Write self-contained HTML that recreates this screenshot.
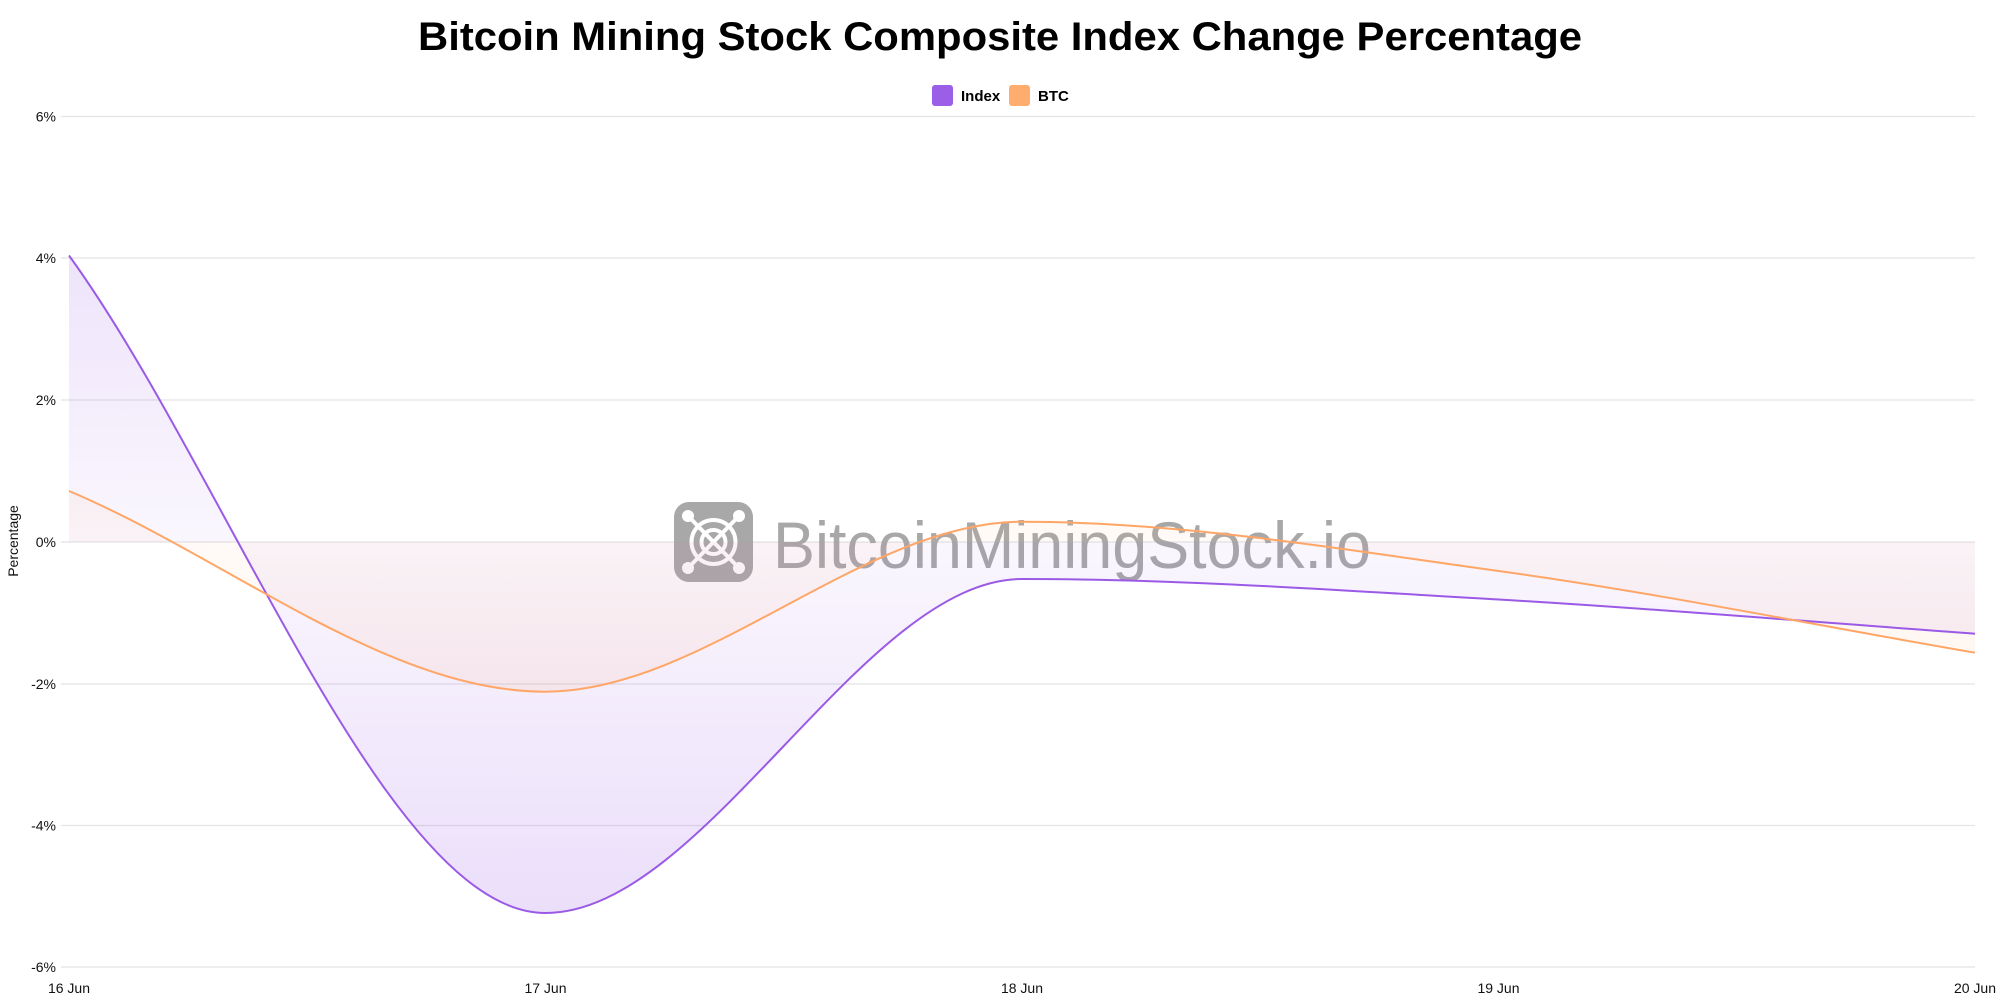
<!DOCTYPE html>
<html><head><meta charset="utf-8"><style>
html,body{margin:0;padding:0;background:#fff;}
svg{display:block;}
text{font-family:"Liberation Sans",Arial,sans-serif;}
</style></head><body>
<svg width="2000" height="1000" viewBox="0 0 2000 1000" xmlns="http://www.w3.org/2000/svg">
<defs>
<linearGradient id="gp" gradientUnits="userSpaceOnUse" x1="0" y1="117" x2="0" y2="967">
<stop offset="0" stop-color="#9a5ae6" stop-opacity="0.22"/>
<stop offset="0.5" stop-color="#9a5ae6" stop-opacity="0.05"/>
<stop offset="1" stop-color="#9a5ae6" stop-opacity="0.22"/>
</linearGradient>
<linearGradient id="go" gradientUnits="userSpaceOnUse" x1="0" y1="117" x2="0" y2="967">
<stop offset="0" stop-color="#ffa666" stop-opacity="0.22"/>
<stop offset="0.5" stop-color="#ffa666" stop-opacity="0.05"/>
<stop offset="1" stop-color="#ffa666" stop-opacity="0.22"/>
</linearGradient>
</defs>
<rect width="2000" height="1000" fill="#fff"/>
<text x="1000" y="50" text-anchor="middle" font-size="40" font-weight="bold" fill="#000" textLength="1164" lengthAdjust="spacingAndGlyphs">Bitcoin Mining Stock Composite Index Change Percentage</text>
<rect x="932" y="85" width="21" height="21" rx="3" fill="#9a5fe6"/>
<text x="961" y="101" font-size="15" font-weight="bold" fill="#000">Index</text>
<rect x="1009" y="85" width="21" height="21" rx="3" fill="#ffad6e"/>
<text x="1038" y="101" font-size="15" font-weight="bold" fill="#000">BTC</text>
<g stroke="#e4e4e4" stroke-width="1.2">
<line x1="61" y1="116.5" x2="1975" y2="116.5"/>
<line x1="61" y1="258" x2="1975" y2="258"/>
<line x1="61" y1="400" x2="1975" y2="400"/>
<line x1="61" y1="542" x2="1975" y2="542"/>
<line x1="61" y1="684" x2="1975" y2="684"/>
<line x1="61" y1="825.5" x2="1975" y2="825.5"/>
<line x1="61" y1="967" x2="1975" y2="967"/>
</g>
<g font-size="14" fill="#111" text-anchor="end">
<text x="56" y="121.5">6%</text>
<text x="56" y="263">4%</text>
<text x="56" y="405">2%</text>
<text x="56" y="547">0%</text>
<text x="56" y="689">-2%</text>
<text x="56" y="830.5">-4%</text>
<text x="56" y="972">-6%</text>
</g>
<g font-size="14" fill="#111" text-anchor="middle">
<text x="69" y="993">16 Jun</text>
<text x="545.5" y="993">17 Jun</text>
<text x="1022" y="993">18 Jun</text>
<text x="1498.5" y="993">19 Jun</text>
<text x="1975" y="993">20 Jun</text>
</g>
<text transform="translate(18,541) rotate(-90)" font-size="14" fill="#111" text-anchor="middle">Percentage</text>
<!-- watermark -->
<g>
<rect x="674" y="502" width="79" height="80" rx="15" fill="#a8a8a8"/>
<g stroke="#fff" stroke-width="4" fill="none">
<circle cx="713.5" cy="542" r="22"/>
<circle cx="713.5" cy="542" r="12"/>
<line x1="690" y1="518" x2="737" y2="566"/>
<line x1="737" y1="518" x2="690" y2="566"/>
</g>
<g fill="#fff">
<circle cx="688" cy="516" r="6"/>
<circle cx="739" cy="516" r="6"/>
<circle cx="688" cy="568" r="6"/>
<circle cx="739" cy="568" r="6"/>
</g>
<text x="773" y="568" font-size="66" fill="#a8a8a8" textLength="598" lengthAdjust="spacingAndGlyphs">BitcoinMiningStock.io</text>
</g>
<!-- fills -->
<path d="M69,542 L69,255.5 C227.83,474.8 386.67,913 545.5,913 C704.33,913 863.17,579 1022,579 C1180.83,579 1339.67,590.38 1498.5,599.5 C1657.33,608.62 1816.17,622.3 1975,633.7 L1975,542 Z" fill="url(#gp)"/>
<path d="M69,542 L69,491 C227.83,557.9 386.67,691.7 545.5,691.7 C704.33,691.7 863.17,521.7 1022,521.7 C1180.83,521.7 1339.67,549.17 1498.5,571 C1657.33,592.83 1816.17,625.47 1975,652.7 L1975,542 Z" fill="url(#go)"/>
<!-- lines -->
<path d="M69,255.5 C227.83,474.8 386.67,913 545.5,913 C704.33,913 863.17,579 1022,579 C1180.83,579 1339.67,590.38 1498.5,599.5 C1657.33,608.62 1816.17,622.3 1975,633.7" fill="none" stroke="#9a5ae6" stroke-width="2"/>
<path d="M69,491 C227.83,557.9 386.67,691.7 545.5,691.7 C704.33,691.7 863.17,521.7 1022,521.7 C1180.83,521.7 1339.67,549.17 1498.5,571 C1657.33,592.83 1816.17,625.47 1975,652.7" fill="none" stroke="#ffa666" stroke-width="2"/>
</svg>
</body></html>
